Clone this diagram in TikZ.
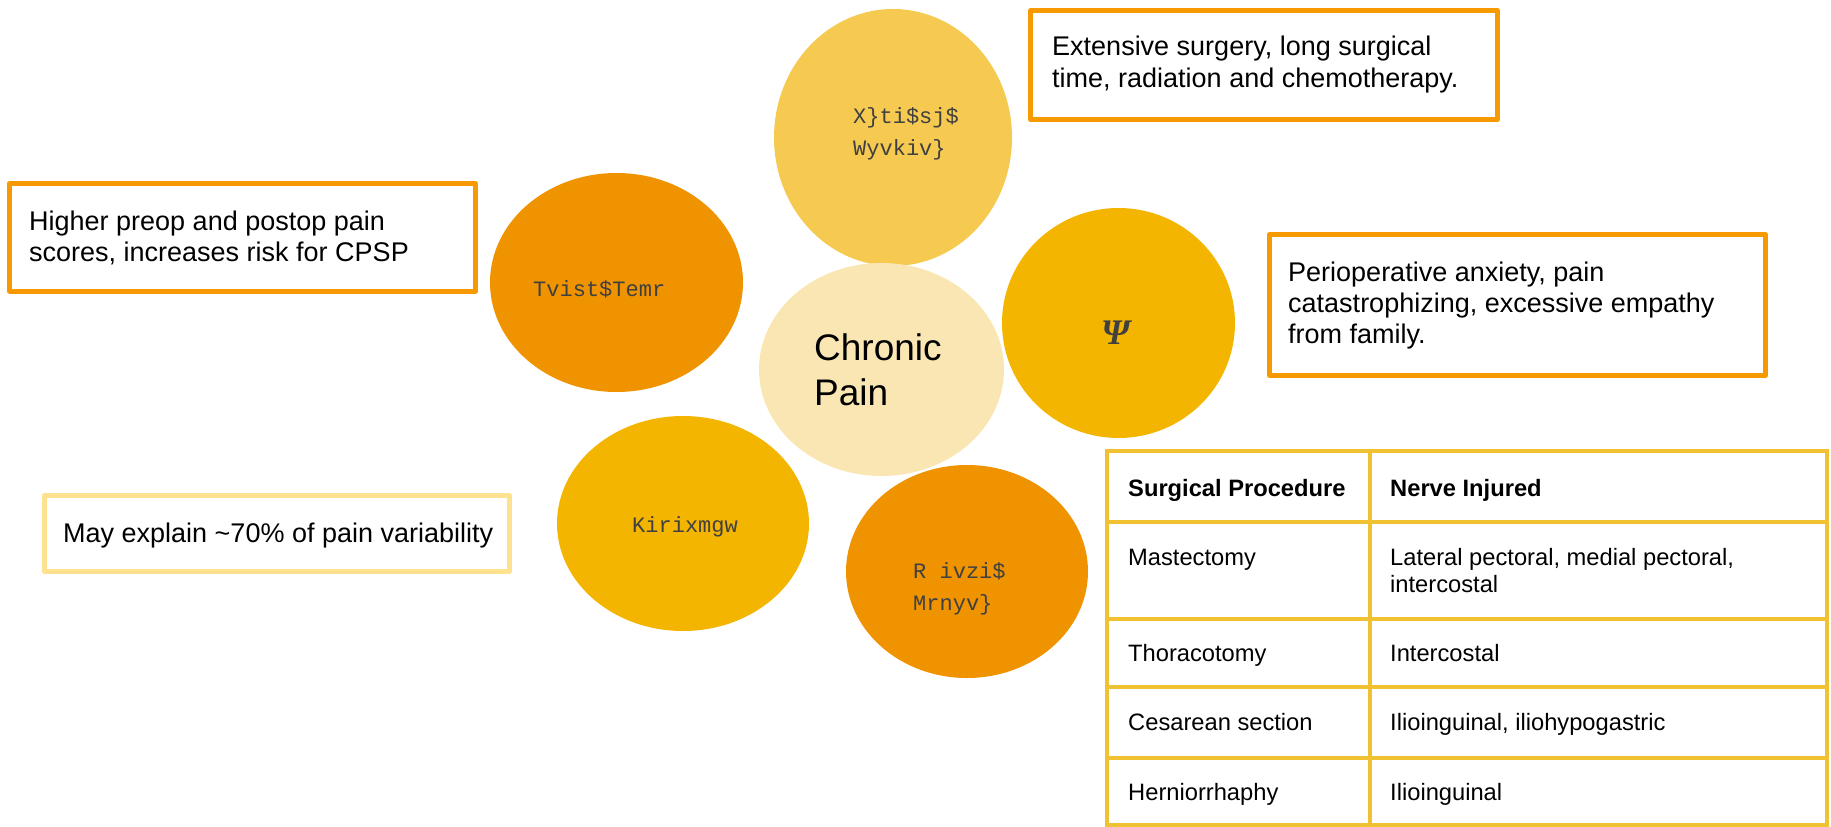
\documentclass[tikz,border=0pt]{standalone}
\usepackage{fontspec}
\setmainfont{Liberation Sans}
\newfontfamily\codefont{Liberation Mono}
\newfontfamily\symbfont{Liberation Serif}
\usetikzlibrary{shapes.geometric}

\definecolor{boxorange}{RGB}{247,153,0}
\definecolor{boxpale}{RGB}{255,226,143}
\definecolor{gridgold}{RGB}{240,194,50}
\definecolor{sungold}{RGB}{246,202,80}
\definecolor{deeporange}{RGB}{240,147,0}
\definecolor{cream}{RGB}{250,230,178}
\definecolor{amber}{RGB}{244,181,0}
\definecolor{inkgray}{RGB}{64,64,64}

\begin{document}
\begin{tikzpicture}[x=1pt,y=-1pt,
  blob/.style={ellipse, draw=none, inner sep=0pt},
  code/.style={font=\codefont\fontsize{22}{24}\selectfont, text=inkgray, inner sep=0pt, anchor=base west},
  note/.style={draw=boxorange, line width=5pt, line join=round, fill=white, inner sep=0pt},
  body/.style={font=\fontsize{27}{31}\selectfont, inner sep=0pt, anchor=base west},
  cell/.style={font=\fontsize{23.7}{28}\selectfont, inner sep=0pt, anchor=base west},
  headcell/.style={cell, font=\fontsize{23.7}{28}\selectfont\bfseries},
  grid/.style={draw=gridgold, line width=4.5pt},
]
\useasboundingbox (0,0) rectangle (1831,827);

% factor circles around the centre
\node[blob, fill=sungold,    minimum width=238pt, minimum height=257pt] (surgery)  at (893,137.5) {};
\node[blob, fill=deeporange, minimum width=253pt, minimum height=219pt] (preop)    at (616.5,282.5) {};
\node[blob, fill=amber,      minimum width=233pt, minimum height=230pt] (psych)    at (1118.5,323) {};
\node[blob, fill=amber,      minimum width=252pt, minimum height=215pt] (genetics) at (683,523.5) {};
\node[blob, fill=deeporange, minimum width=242pt, minimum height=213pt] (nerve)    at (967,571.5) {};
\node[blob, fill=cream,      minimum width=245pt, minimum height=213pt] (chronic)  at (881.5,369.5) {};

% circle labels
\node[code] (surgeryA) at (853,123) {X\}ti\$sj\$};
\node[code] (surgeryB) at (853,155) {Wyvkiv\}};
\node[code] (preopA)   at (533,296) {Tvist\$Temr};
\node[code] (geneA)    at (632,532) {Kirixmgw};
\node[code] (nerveA)   at (913,578) {R ivzi\$};
\node[code] (nerveB)   at (913,610) {Mrnyv\}};
\node[font=\symbfont\bfseries\itshape\fontsize{36}{40}\selectfont, text=inkgray, inner sep=0pt] (psi) at (1115.5,333) {Ψ};
\node[font=\fontsize{37}{44}\selectfont, inner sep=0pt, anchor=base west] (chronicA) at (814,360) {Chronic};
\node[font=\fontsize{37}{44}\selectfont, inner sep=0pt, anchor=base west] (chronicB) at (814,405) {Pain};

% explanatory boxes
\node[note, minimum width=466pt, minimum height=107.5pt] (preopnote) at (242.5,237.25) {};
\node[body] (preopnoteA) at (29,230) {Higher preop and postop pain};
\node[body] (preopnoteB) at (29,261) {scores, increases risk for CPSP};

\node[note, minimum width=467pt, minimum height=109pt] (surgnote) at (1264,65) {};
\node[body] (surgnoteA) at (1052,55) {Extensive surgery, long surgical};
\node[body] (surgnoteB) at (1052,87) {time, radiation and chemotherapy.};

\node[note, minimum width=496pt, minimum height=141pt] (psynote) at (1517.5,305) {};
\node[body] (psynoteA) at (1288,281) {Perioperative anxiety, pain};
\node[body] (psynoteB) at (1288,312) {catastrophizing, excessive empathy};
\node[body] (psynoteC) at (1288,343) {from family.};

\node[note, draw=boxpale, minimum width=465pt, minimum height=76pt] (genenote) at (277,533.5) {};
\node[body] (genenoteA) at (63,542) {May explain \textasciitilde70\% of pain variability};

% procedure / nerve table
\draw[grid] (1107,451) rectangle (1827,825);
\foreach \yy in {522,619,687,758} \draw[grid] (1107,\yy) -- (1827,\yy);
\draw[grid] (1370,451) -- (1370,825);

\node[headcell] (h1) at (1128,496) {Surgical Procedure};
\node[headcell] (h2) at (1390,496) {Nerve Injured};
\node[cell] (r1a) at (1128,565) {Mastectomy};
\node[cell] (r1b) at (1390,565) {Lateral pectoral, medial pectoral,};
\node[cell] (r1c) at (1390,592) {intercostal};
\node[cell] (r2a) at (1128,661) {Thoracotomy};
\node[cell] (r2b) at (1390,661) {Intercostal};
\node[cell] (r3a) at (1128,730) {Cesarean section};
\node[cell] (r3b) at (1390,730) {Ilioinguinal, iliohypogastric};
\node[cell] (r4a) at (1128,800) {Herniorrhaphy};
\node[cell] (r4b) at (1390,800) {Ilioinguinal};
\end{tikzpicture}
\end{document}
